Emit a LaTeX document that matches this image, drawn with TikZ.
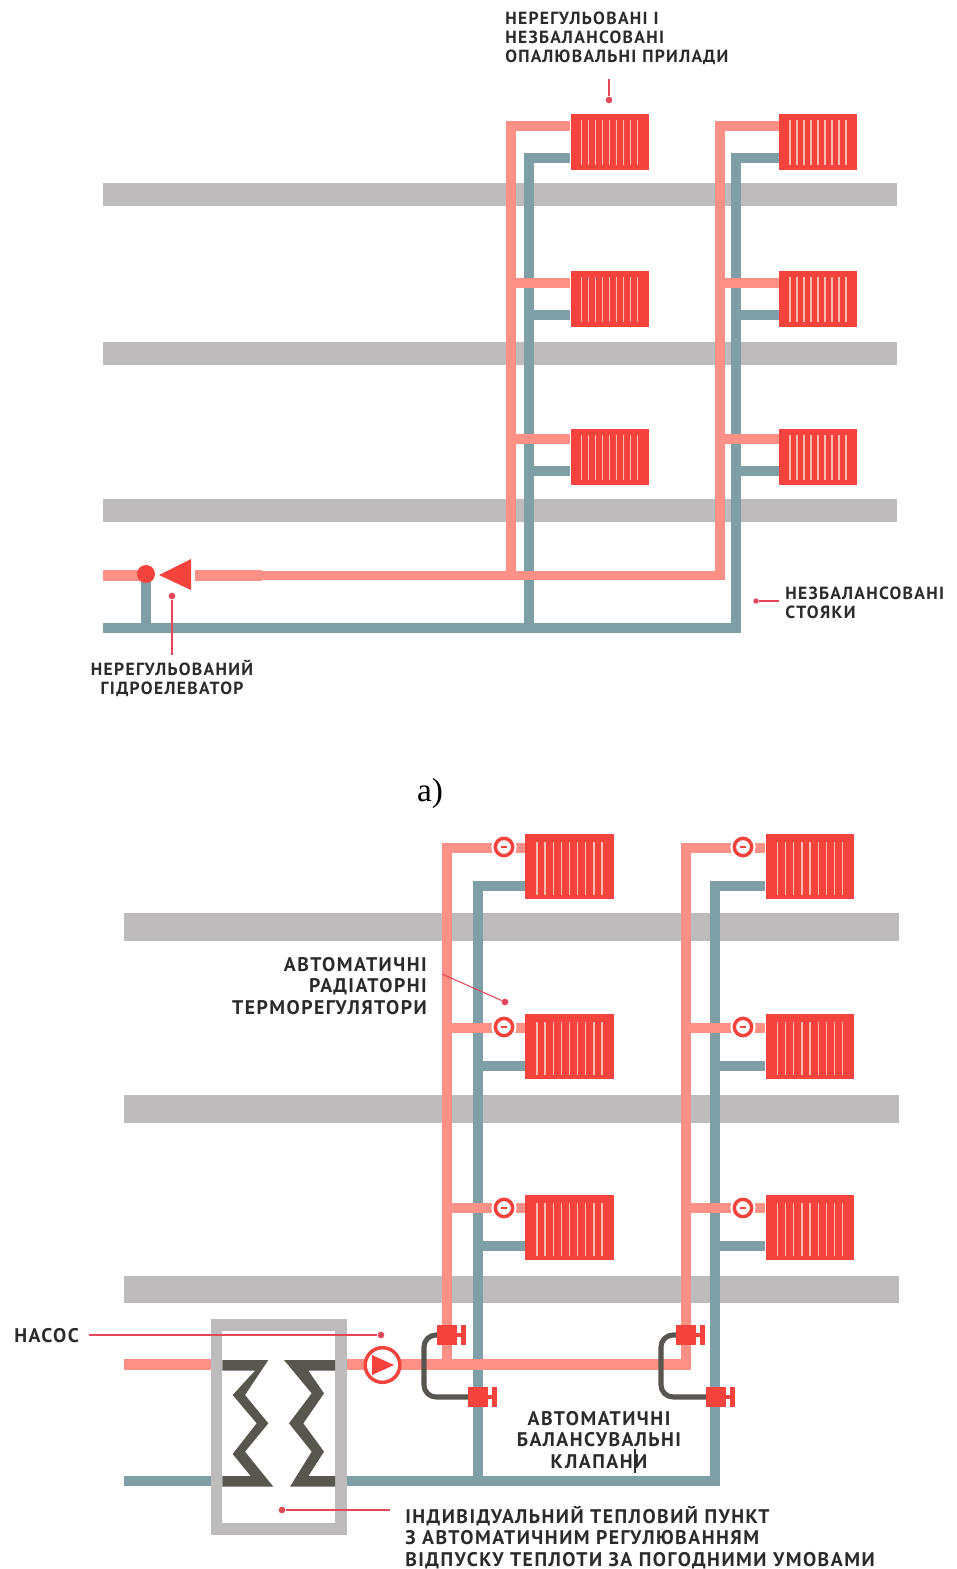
\documentclass[tikz,border=0pt]{standalone}
\usepackage{fontspec}
\setmainfont{PT Sans}
\newfontfamily\lblfont[LetterSpace=7.5]{PT Sans}
\newfontfamily\serfont{Liberation Serif}
\definecolor{hotc}{HTML}{FF9086}
\definecolor{coldc}{HTML}{7F9FA7}
\definecolor{slabc}{HTML}{BDBBBB}
\definecolor{redc}{HTML}{F4433C}
\definecolor{finc}{HTML}{F7BBB0}
\definecolor{darkc}{HTML}{59564F}
\definecolor{txtc}{HTML}{2B2B2B}
\definecolor{leadc}{HTML}{E2475A}
\tikzset{
  x=0.75pt,y=-0.75pt,
  hot/.style={draw=hotc,line width=7.1pt,line join=miter},
  cold/.style={draw=coldc,line width=7.1pt,line join=miter},
  hotb/.style={draw=hotc,line width=7.6pt,line join=miter},
  coldb/.style={draw=coldc,line width=7.6pt,line join=miter},
  thick hot/.style={draw=hotc,line width=7.8pt},
  thick cold/.style={draw=coldc,line width=7.8pt},
  thicker hot/.style={draw=hotc,line width=8.2pt},
  thicker cold/.style={draw=coldc,line width=8.2pt},
  fin/.style={draw=finc,line width=0.95pt},
  radup/.style={fill=redc,inner sep=0pt,minimum width=58.5pt,minimum height=42pt,
    path picture={\foreach \k in {-4,...,4}
      \draw[fin] ([xshift=\k*5.25pt,yshift=-4.5pt]path picture bounding box.north) -- ([xshift=\k*5.25pt,yshift=4pt]path picture bounding box.south);}},
  radlo/.style={fill=redc,inner sep=0pt,minimum width=66.5pt,minimum height=48.75pt,
    path picture={\foreach \k in {-4,...,4}
      \draw[fin] ([xshift=\k*6.1pt,yshift=-6pt]path picture bounding box.north) -- ([xshift=\k*6.1pt,yshift=3pt]path picture bounding box.south);}},
  lbls/.style={inner sep=0pt,text=txtc,font=\lblfont\bfseries\fontsize{13.2}{14.3}\selectfont},
  lblb/.style={inner sep=0pt,text=txtc,font=\lblfont\bfseries\fontsize{14.8}{16.1}\selectfont},
  lead/.style={draw=leadc,line width=0.8pt},
  ldot/.style={circle,fill=leadc,inner sep=0pt,minimum size=5pt},
  tvalve/.style={circle,fill=white,draw=redc,line width=2.6pt,inner sep=0pt,minimum size=13pt},
  halo/.style={circle,fill=white,inner sep=0pt,minimum size=19pt},
  bvalve/.style={fill=redc,inner sep=0pt,minimum width=15pt,minimum height=15pt},
  capil/.style={draw=darkc,line width=3.8pt,rounded corners=9pt},
}
\newcommand\bvalvenode[3]{%
  \node[bvalve] (#1) at (#2,#3) {};
  \draw[draw=redc,line width=3pt] (#1.east) -- ++(7,0);
  \fill[redc] ([xshift=3pt,yshift=7.2pt]#1.east) rectangle ([xshift=6.6pt,yshift=-7.2pt]#1.east);
}
\newcommand\tvalvenode[3]{%
  \node[halo] (#1h) at (#2,#3) {};
  \node[tvalve] (#1) at (#2,#3) {};
  \draw[draw=redc,line width=1.6pt] ([xshift=-2.5pt]#1.center) -- ([xshift=2.5pt]#1.center);
}
\begin{document}
\begin{tikzpicture}
\useasboundingbox (0,0) rectangle (956,1569);
\fill[white] (0,0) rectangle (956,1569);

%%% ---- upper scheme ----
\foreach \a/\b in {183/206,342/365,499/522}
  \fill[slabc] (103,\a) rectangle (897,\b);

\coordinate (aHm) at (195,575.5);
\coordinate (aHs) at (103,575.5);
\coordinate (aHw) at (262,575.5);
\coordinate (aCs) at (103,628);
\coordinate (aCw) at (262,628);
\coordinate (aStubT) at (146,575.5);
\coordinate (aStubB) at (146,628);
\coordinate (aHt1) at (511,126);
\coordinate (aHb1) at (511,575.5);
\coordinate (aHt2) at (720,126);
\coordinate (aHb2) at (720,575.5);
\coordinate (aCt1) at (529,158);
\coordinate (aCb1) at (529,628);
\coordinate (aCt2) at (736,158);
\coordinate (aCb2) at (736,628);

\node[radup] (ra1) at (609.5,142) {};
\node[radup] (ra2) at (609.5,299) {};
\node[radup] (ra3) at (609.5,457) {};
\node[radup] (rb1) at (818,142) {};
\node[radup] (rb2) at (818,299) {};
\node[radup] (rb3) at (818,457) {};

% cold
\draw[cold] (aStubT) -- (aStubB);
\draw[cold] (aCs) -- (aCb2) -- (aCt2) -- (rb1.west |- aCt2);
\draw[thick cold] (aCs) -- (aCw);
\draw[cold] (aCb1) -- (aCt1) -- (ra1.west |- aCt1);
\foreach \r/\y in {2/315,3/471} {
  \draw[cold] (529,\y) -- (ra\r.west |- 529,\y);
  \draw[cold] (736,\y) -- (rb\r.west |- 736,\y);
}
% hot
\draw[thick hot] (aHs) -- (aStubT);
\draw[hot] (aHm) -- (aHb2) -- (aHt2) -- (rb1.west |- aHt2);
\draw[thick hot] (aHm) -- (aHw);
\draw[hot] (aHb1) -- (aHt1) -- (ra1.west |- aHt1);
\foreach \r/\y in {2/283,3/439} {
  \draw[hot] (511,\y) -- (ra\r.west |- 511,\y);
  \draw[hot] (720,\y) -- (rb\r.west |- 720,\y);
}
% radiators again on top
\node[radup] at (ra1) {};
\node[radup] at (rb1) {};
\node[radup] at (ra2) {};
\node[radup] at (rb2) {};
\node[radup] at (ra3) {};
\node[radup] at (rb3) {};

\node[circle,fill=redc,inner sep=0pt,minimum size=13.5pt] (elevc) at (146,574) {};
\fill[redc] (159,575) -- (191,559) -- (191,590) -- cycle;

\node[ldot] (d1) at (172,596) {};
\coordinate (d1e) at (172,655);
\draw[lead] (d1) -- (d1e);
\node[lbls,align=center,anchor=north] (t1) at (172,660) {НЕРЕГУЛЬОВАНИЙ\\ГІДРОЕЛЕВАТОР};

\node[ldot] (d2) at (609,100) {};
\coordinate (d2e) at (609,79);
\draw[lead] (d2) -- (d2e);
\node[lbls,align=left,anchor=north west] (t2) at (505,11.5) {НЕРЕГУЛЬОВАНІ І\\НЕЗБАЛАНСОВАНІ\\ОПАЛЮВАЛЬНІ ПРИЛАДИ};

\node[ldot,minimum size=4pt] (d3) at (756,601) {};
\coordinate (d3e) at (779,601);
\draw[lead] (d3) -- (d3e);
\node[lbls,align=left,anchor=north west] (t3) at (785,587) {НЕЗБАЛАНСОВАНІ\\СТОЯКИ};

\node[inner sep=0pt,text=black,font=\serfont\fontsize{25}{28}\selectfont] (alab) at (430,793) {а)};

%%% ---- lower scheme ----
\foreach \a/\b in {913/941,1095/1123,1276/1303}
  \fill[slabc] (124,\a) rectangle (899,\b);

\coordinate (bHs) at (124,1364.5);
\coordinate (bHe) at (691,1364.5);
\coordinate (bCs) at (124,1481);
\coordinate (bCw) at (375,1481);
\coordinate (bCe) at (715,1481);
\coordinate (bHt1) at (447,848);
\coordinate (bHb1) at (447,1364.5);
\coordinate (bHt2) at (686,848);
\coordinate (bCt1) at (478,886);
\coordinate (bCb1) at (478,1481);
\coordinate (bCt2) at (715,886);

\node[radlo] (rc1) at (569.5,866.5) {};
\node[radlo] (rc2) at (569.5,1046.5) {};
\node[radlo] (rc3) at (569.5,1227.5) {};
\node[radlo] (rd1) at (810,866.5) {};
\node[radlo] (rd2) at (810,1046.5) {};
\node[radlo] (rd3) at (810,1227.5) {};

\draw[coldb] (bCs) -- (bCe) -- (bCt2) -- (rd1.west |- bCt2);
\draw[thicker cold] (bCs) -- (bCw);
\draw[coldb] (bCb1) -- (bCt1) -- (rc1.west |- bCt1);
\foreach \r/\y in {2/1066,3/1246} {
  \draw[coldb] (478,\y) -- (rc\r.west |- 478,\y);
  \draw[coldb] (715,\y) -- (rd\r.west |- 715,\y);
}
\draw[hotb] (bHb1) -- (bHt1) -- (rc1.west |- bHt1);
\draw[hotb] (bHs) -- (bHe) -- (bHt2 |- bHe) -- (bHt2) -- (rd1.west |- bHt2);
\foreach \r/\y in {2/1028,3/1208} {
  \draw[hotb] (447,\y) -- (rc\r.west |- 447,\y);
  \draw[hotb] (686,\y) -- (rd\r.west |- 686,\y);
}
\node[radlo] at (rc1) {};
\node[radlo] at (rd1) {};
\node[radlo] at (rc2) {};
\node[radlo] at (rd2) {};
\node[radlo] at (rc3) {};
\node[radlo] at (rd3) {};

\tvalvenode{tc1}{504}{847}
\tvalvenode{tc2}{504}{1027}
\tvalvenode{tc3}{504}{1208}
\tvalvenode{td1}{743}{847}
\tvalvenode{td2}{743}{1027}
\tvalvenode{td3}{743}{1208}

% substation box
\fill[white] (217,1325) rectangle (341,1529);
\draw[draw=slabc,line width=8.6pt] (216.5,1325) rectangle (341,1529);
\begin{scope}[shift={(200,1310)},x=0.25pt,y=-0.25pt]
\fill[darkc] (205,150) -- (135,255) -- (205,340) -- (135,425) -- (220,530) -- (67,530) -- (67,498) -- (152,498) -- (98,432) -- (170,340) -- (98,255) -- (165,182) -- (67,182) -- (67,150) -- cycle;
\fill[darkc] (405,150) -- (252,150) -- (335,250) -- (267,340) -- (335,425) -- (270,530) -- (405,530) -- (405,498) -- (325,498) -- (372,425) -- (310,340) -- (372,250) -- (325,182) -- (405,182) -- cycle;
\end{scope}

% pump
\node[circle,fill=white,draw=redc,line width=2.6pt,inner sep=0pt,minimum size=26pt] (pump) at (382.5,1365) {};
\fill[redc] (372,1355) -- (394,1365) -- (372,1375) -- cycle;

% capillaries
\draw[capil] (445,1335) -- (424,1335) -- (424,1397) -- (478,1397);
\draw[capil] (685,1335) -- (661,1335) -- (661,1397) -- (716,1397);

\bvalvenode{v1}{447}{1335}
\bvalvenode{v2}{478}{1397}
\bvalvenode{v3}{686}{1335}
\bvalvenode{v4}{716}{1397}

% labels and leaders
\node[ldot] (d4) at (381,1335) {};
\coordinate (d4e) at (89,1335);
\draw[lead] (d4) -- (d4e);
\node[lblb,anchor=west] (t4) at (14,1336) {НАСОС};

\node[ldot] (d5) at (505,1002) {};
\coordinate (d5e) at (442,974);
\draw[lead] (d5) -- (d5e);
\node[lblb,align=right,anchor=north east] (t5) at (427,957) {АВТОМАТИЧНІ\\РАДІАТОРНІ\\ТЕРМОРЕГУЛЯТОРИ};

\node[lblb,align=center,anchor=north] (t6) at (599,1411) {АВТОМАТИЧНІ\\БАЛАНСУВАЛЬНІ\\КЛАПАНИ};
\coordinate (m1) at (635,1449);
\coordinate (m2) at (635,1473);
\draw[draw=txtc,line width=0.8pt] (m1) -- (m2);

\node[ldot] (d6) at (282,1510) {};
\coordinate (d6e) at (390,1510);
\draw[lead] (d6) -- (d6e);
\node[lblb,align=left,anchor=north west] (t7) at (405,1506) {ІНДИВІДУАЛЬНИЙ ТЕПЛОВИЙ ПУНКТ\\З АВТОМАТИЧНИМ РЕГУЛЮВАННЯМ\\ВІДПУСКУ ТЕПЛОТИ ЗА ПОГОДНИМИ УМОВАМИ};
\end{tikzpicture}
\end{document}
